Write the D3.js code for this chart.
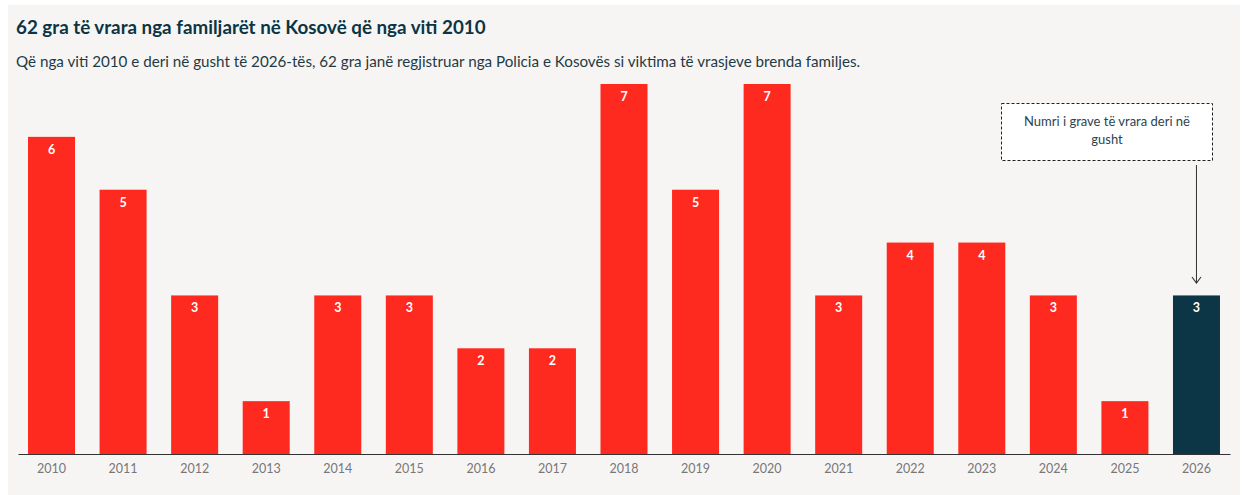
<!DOCTYPE html>
<html>
<head>
<meta charset="utf-8">
<script src="https://cdn.jsdelivr.net/npm/d3@7"></script>
<style>
  body { margin: 0; background: #fff; }
  svg { display: block; font-family: Lato, "Noto Sans", sans-serif; }
</style>
</head>
<body>
<svg width="1255" height="495"></svg>
<script>
const years = ["2010","2011","2012","2013","2014","2015","2016","2017","2018",
  "2019","2020","2021","2022","2023","2024","2025","2026"];
const victims = [6, 5, 3, 1, 3, 3, 2, 2, 7, 5, 7, 3, 4, 4, 3, 1, 3];
const highlightYear = "2026";
const titleText = "62 gra të vrara nga familjarët në Kosovë që nga viti 2010";
const subtitleText = "Që nga viti 2010 e deri në gusht të 2026-tës, 62 gra janë regjistruar nga Policia e Kosovës si viktima të vrasjeve brenda familjes.";
const noteLines = ["Numri i grave të vrara deri në", "gusht"];

const svg = d3.select("svg");

// panel background
svg.append("rect")
  .attr("x", 8).attr("y", 5)
  .attr("width", 1232).attr("height", 490)
  .attr("fill", "#f7f5f4");

svg.append("text")
  .attr("x", 16).attr("y", 34)
  .attr("fill", "#0b3545")
  .attr("font-size", 18.8)
  .attr("font-weight", 700)
  .text(titleText);

svg.append("text")
  .attr("x", 16).attr("y", 67)
  .attr("fill", "#1f3a45")
  .attr("font-size", 15.2)
  .text(subtitleText);

const data = years.map((y, i) => ({ year: y, value: victims[i] }));

const x = d3.scaleBand()
  .domain(years)
  .range([18, 1230])
  .paddingInner(0.343)
  .paddingOuter(0.14);

const y = d3.scaleLinear()
  .domain([0, 7])
  .range([454, 84]);

svg.selectAll(".bar")
  .data(data)
  .enter()
  .append("rect")
  .attr("class", "bar")
  .attr("x", d => x(d.year))
  .attr("y", d => y(d.value))
  .attr("width", x.bandwidth())
  .attr("height", d => y(0) - y(d.value))
  .attr("fill", d => d.year === highlightYear ? "#0c3646" : "#ff2a1f");

svg.selectAll(".lbl")
  .data(data)
  .enter()
  .append("text")
  .attr("class", "lbl")
  .attr("x", d => x(d.year) + x.bandwidth() / 2)
  .attr("y", d => y(d.value) + 17)
  .attr("text-anchor", "middle")
  .attr("fill", "#fff")
  .attr("font-size", 12.5)
  .attr("font-weight", 700)
  .text(d => d.value);

const axis = svg.append("g")
  .attr("transform", `translate(0, ${y(0)})`)
  .call(d3.axisBottom(x).tickSize(0).tickPadding(10));
axis.select(".domain").attr("stroke", "#333").attr("stroke-width", 1.2);
axis.selectAll("text")
  .attr("fill", "#777")
  .attr("font-size", 12.5)
  .attr("font-family", "Lato, 'Noto Sans', sans-serif");

// annotation box + arrow
const hx = x(highlightYear) + x.bandwidth() / 2;
svg.append("rect")
  .attr("x", 1001.5).attr("y", 103.5)
  .attr("width", 211).attr("height", 57)
  .attr("fill", "#fff")
  .attr("stroke", "#222")
  .attr("stroke-width", 1)
  .attr("stroke-dasharray", "3,2");

svg.append("g").selectAll("text")
  .data(noteLines)
  .enter()
  .append("text")
  .attr("x", 1107)
  .attr("y", (d, i) => 126 + i * 18)
  .attr("text-anchor", "middle")
  .attr("fill", "#2b4450")
  .attr("font-size", 13)
  .text(d => d);

const tipY = 283;
svg.append("line")
  .attr("x1", hx).attr("x2", hx)
  .attr("y1", 165).attr("y2", tipY)
  .attr("stroke", "#333")
  .attr("stroke-width", 1);

svg.append("path")
  .attr("d", d3.line()([[hx - 4.5, tipY - 6], [hx, tipY], [hx + 4.5, tipY - 6]]))
  .attr("fill", "none")
  .attr("stroke", "#333")
  .attr("stroke-width", 1.1);
</script>
</body>
</html>
